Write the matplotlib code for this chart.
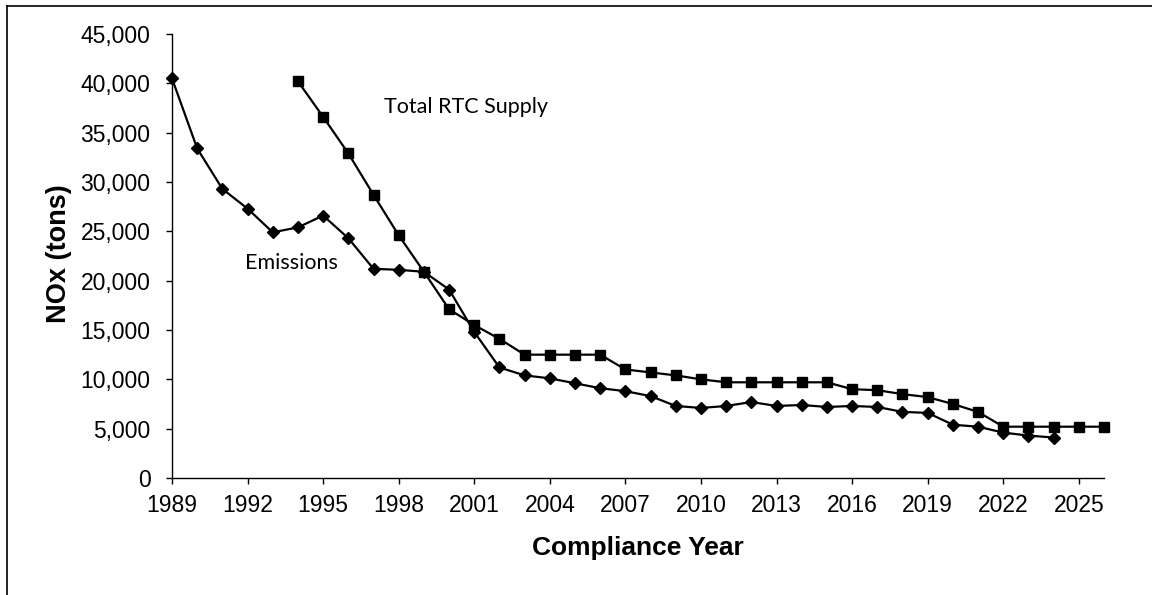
import matplotlib
matplotlib.use("Agg")
import matplotlib.pyplot as plt
from matplotlib.lines import Line2D
from matplotlib.ticker import FuncFormatter

emis_years = list(range(1989, 2025))
emissions = [40500, 33400, 29300, 27300, 24900, 25400, 26600, 24300, 21200, 21100,
             20900, 19100, 14800, 11200, 10400, 10100, 9600, 9100, 8800, 8300,
             7300, 7100, 7300, 7700, 7300, 7400, 7200, 7300, 7200, 6700,
             6600, 5400, 5200, 4600, 4300, 4100]

supply_years = list(range(1994, 2027))
supply = [40200, 36600, 32900, 28700, 24600, 20900, 17100, 15500, 14100, 12500,
          12500, 12500, 12500, 11000, 10700, 10400, 10000, 9700, 9700, 9700,
          9700, 9700, 9000, 8900, 8500, 8200, 7500, 6700, 5200, 5200,
          5200, 5200, 5200]

xticks = list(range(1989, 2026, 3))
yticks = list(range(0, 45001, 5000))

W, H = 1152, 595
fig = plt.figure(figsize=(W / 100, H / 100), dpi=100)
ax = fig.add_axes([172 / W, 1 - 478 / H, (1104 - 172) / W, (478 - 34) / H])

ax.plot(emis_years, emissions, color="black", lw=1.6, marker="D", ms=6.5, clip_on=False, zorder=3)
ax.plot(supply_years, supply, color="black", lw=1.6, marker="s", ms=7, clip_on=False, zorder=3)

ax.set_xlim(1989, 2026)
ax.set_ylim(0, 45000)
ax.set_xticks(xticks)
ax.set_yticks(yticks)
ax.yaxis.set_major_formatter(FuncFormatter(lambda v, p: f"{int(v):,}"))
for s in ["top", "right"]:
    ax.spines[s].set_visible(False)
for s in ["left", "bottom"]:
    ax.spines[s].set_linewidth(1.0)
ax.tick_params(direction="out", length=4.5, width=1.0, labelsize=16.5)
ax.tick_params(axis="x", pad=7)
ax.tick_params(axis="y", pad=11)
for lab in ax.get_xticklabels() + ax.get_yticklabels():
    lab.set_fontfamily("Liberation Sans")

ax.set_ylabel("NOx (tons)", fontsize=19.5, fontweight="bold", family="Liberation Sans")
ax.yaxis.set_label_coords(-0.107, 0.505)
ax.set_xlabel("Compliance Year", fontsize=19, fontweight="bold", family="Liberation Sans")
ax.xaxis.set_label_coords(0.5, -0.13)

ax.text(1997.4, 37600, "Total RTC Supply", fontsize=15.5, family="Lato", va="center", ha="left")
ax.text(1991.9, 21800, "Emissions", fontsize=15.5, family="Lato", va="center", ha="left")

# outer frame (left and top edges)
fig.add_artist(Line2D([7 / W, 7 / W], [0, 1 - 6 / H], transform=fig.transFigure, color="black", lw=1.2))
fig.add_artist(Line2D([7 / W, 1], [1 - 6 / H, 1 - 6 / H], transform=fig.transFigure, color="black", lw=1.2))

fig.savefig("out.png", dpi=100)
